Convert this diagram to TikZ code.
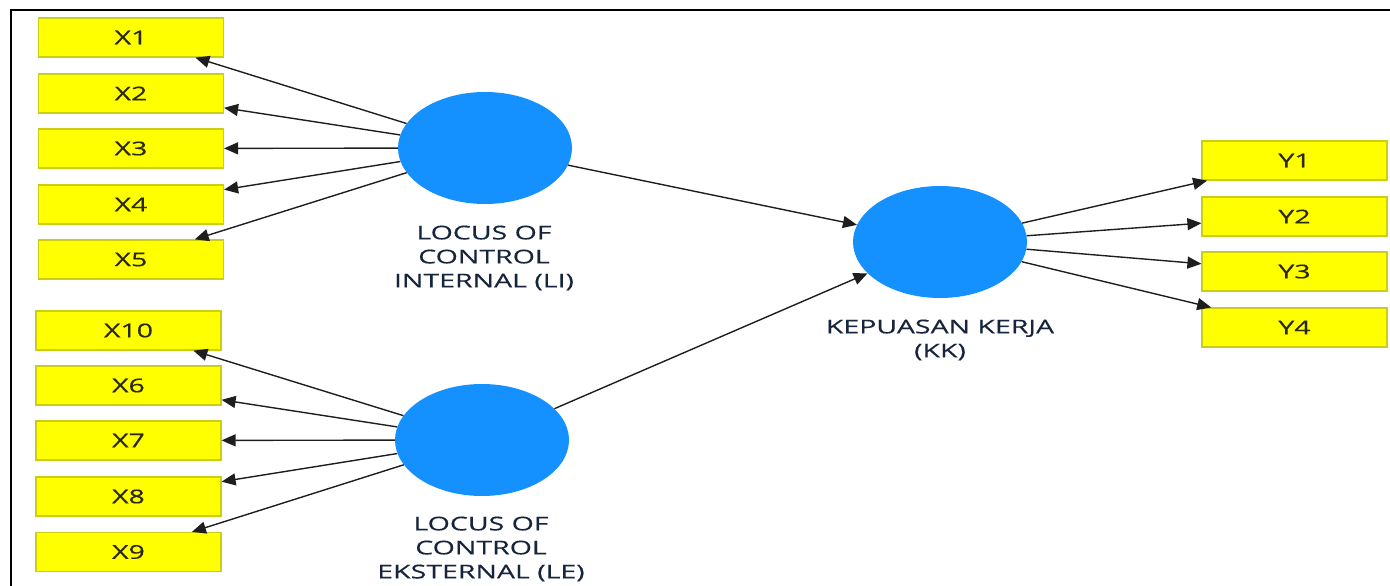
\documentclass[tikz,border=0pt]{standalone}
\usepackage{fontspec}
\setmainfont{Open Sans}
\newfontfamily\widefont[FakeStretch=1.5,FakeBold=0.35]{Open Sans}
\usetikzlibrary{shapes.geometric,arrows.meta}

\definecolor{boxfill}{RGB}{255,255,0}
\definecolor{boxedge}{RGB}{205,205,20}
\definecolor{latent}{RGB}{20,145,255}
\definecolor{boxtext}{RGB}{40,40,5}
\definecolor{labeltext}{RGB}{22,36,60}
\definecolor{edge}{RGB}{30,30,30}

\tikzset{
  indicator/.style={draw=boxedge, line width=1.2pt, fill=boxfill,
    minimum width=185pt, minimum height=39pt, inner sep=0pt,
    text=boxtext, font=\widefont\fontsize{19}{24}\selectfont},
  construct/.style={ellipse, fill=latent, draw=none,
    minimum width=174pt, minimum height=112pt, inner sep=0pt},
  caption/.style={align=center, text=labeltext, inner sep=0pt,
    font=\widefont\fontsize{19}{24}\selectfont},
  path/.style={draw=edge, line width=1.4pt,
    -{Triangle[length=14pt,width=12pt]}}
}

\begin{document}
\begin{tikzpicture}[x=1pt,y=-1pt]
\useasboundingbox (0,0) rectangle (1390,586);

% frame
\draw[line width=2.6pt] (11,586) -- (11,10) -- (1390,10);

% indicators of LI
\node[indicator] (X1)  at (131,37.5)  {X1};
\node[indicator] (X2)  at (131,93.5)  {X2};
\node[indicator] (X3)  at (131,148.5) {X3};
\node[indicator] (X4)  at (131,204.5) {X4};
\node[indicator] (X5)  at (131,259.5) {X5};

% indicators of LE
\node[indicator] (X10) at (128.5,330.5) {X10};
\node[indicator] (X6)  at (128.5,385.5) {X6};
\node[indicator] (X7)  at (128.5,440.5) {X7};
\node[indicator] (X8)  at (128.5,496.5) {X8};
\node[indicator] (X9)  at (128.5,552)   {X9};

% indicators of KK
\node[indicator] (Y1)  at (1294.5,160.5) {Y1};
\node[indicator] (Y2)  at (1294.5,216.5) {Y2};
\node[indicator] (Y3)  at (1294.5,271.5) {Y3};
\node[indicator] (Y4)  at (1294.5,327.5) {Y4};

% latent variables
\node[construct] (LI) at (485,148) {};
\node[construct] (LE) at (482,440) {};
\node[construct] (KK) at (940,242) {};

\node[caption] (LIlab) at (484,258) {LOCUS OF\\CONTROL\\INTERNAL (LI)};
\node[caption] (LElab) at (481,549) {LOCUS OF\\CONTROL\\EKSTERNAL (LE)};
\node[caption] (KKlab) at (940,340) {KEPUASAN KERJA\\(KK)};

% outer loadings
\foreach \i in {X1,X2,X3,X4,X5} \draw[path] (LI) -- (\i);
\foreach \i in {X10,X6,X7,X8,X9} \draw[path] (LE) -- (\i);
\foreach \i in {Y1,Y2,Y3,Y4} \draw[path] (KK) -- (\i);

% structural paths
\draw[path] (LI) -- (KK);
\draw[path] (LE) -- (KK);
\end{tikzpicture}
\end{document}
